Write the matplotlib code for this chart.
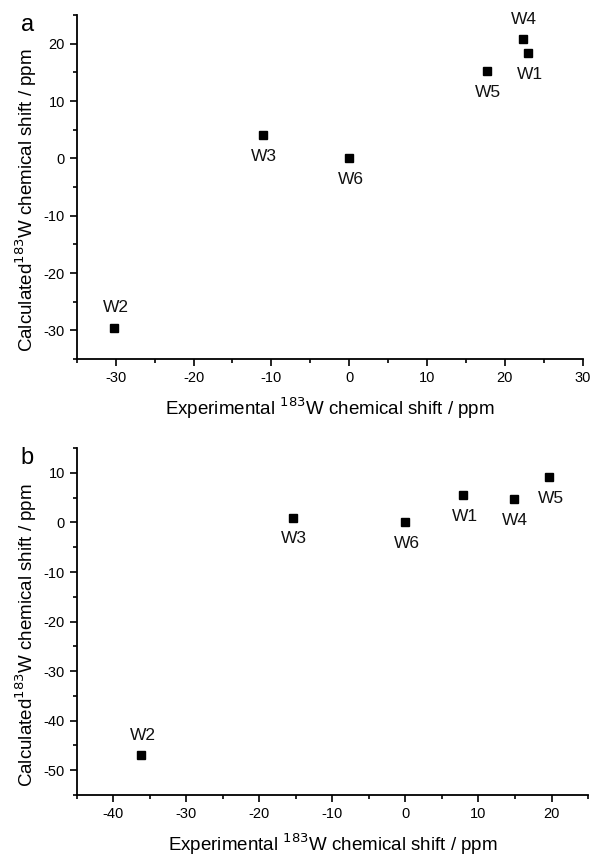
import matplotlib
matplotlib.use("Agg")
import matplotlib.pyplot as plt
from matplotlib.ticker import MultipleLocator

plt.rcParams['font.family'] = ['Liberation Sans', 'DejaVu Sans']
plt.rcParams['axes.unicode_minus'] = False

# panel a
labels_a = ['W1', 'W2', 'W3', 'W4', 'W5', 'W6']
exp_a = [23.0, -30.2, -11.1, 22.3, 17.7, 0.0]
calc_a = [18.3, -29.5, 4.0, 20.8, 15.2, 0.0]
above_a = ['W2', 'W4']

# panel b
labels_b = ['W1', 'W2', 'W3', 'W4', 'W5', 'W6']
exp_b = [7.9, -36.2, -15.4, 14.8, 19.7, 0.0]
calc_b = [5.5, -47.0, 1.0, 4.7, 9.2, 0.0]
above_b = ['W2']

xticks_a = [-30, -20, -10, 0, 10, 20, 30]
yticks_a = [-30, -20, -10, 0, 10, 20]
xticks_b = [-40, -30, -20, -10, 0, 10, 20]
yticks_b = [-50, -40, -30, -20, -10, 0, 10]

fig = plt.figure(figsize=(5.91, 8.57), dpi=100)
ax1 = fig.add_axes([0.130, 0.581, 0.856, 0.4015])
ax2 = fig.add_axes([0.130, 0.0725, 0.865, 0.4045])


def draw(ax, xs, ys, names, above, xlim, ylim, xt, yt, letter):
    ax.plot(xs, ys, 's', color='black', markersize=5.3, linestyle='none')
    for x, y, n in zip(xs, ys, names):
        if n in above:
            ax.annotate(n, (x, y), xytext=(1, 9), textcoords='offset points',
                        ha='center', va='bottom', fontsize=12.5, color='#111111')
        else:
            ax.annotate(n, (x, y), xytext=(1, -10), textcoords='offset points',
                        ha='center', va='top', fontsize=12.5, color='#111111')
    ax.set_xlim(*xlim)
    ax.set_ylim(*ylim)
    ax.set_xticks(xt)
    ax.set_yticks(yt)
    ax.xaxis.set_minor_locator(MultipleLocator(5))
    ax.yaxis.set_minor_locator(MultipleLocator(5))
    ax.tick_params(which='both', direction='out', width=1.2, labelsize=10.5)
    ax.tick_params(which='major', length=5)
    ax.tick_params(which='minor', length=3)
    for s in ['top', 'right']:
        ax.spines[s].set_visible(False)
    for s in ['left', 'bottom']:
        ax.spines[s].set_linewidth(1.3)
    ax.set_xlabel('Experimental $^{183}$W chemical shift / ppm', fontsize=13.5, labelpad=8)
    ax.set_ylabel('Calculated$^{183}$W chemical shift / ppm', fontsize=13.5)
    ax.yaxis.set_label_coords(-0.074, 0.462)
    ax.text(-0.098, 0.972, letter, transform=ax.transAxes, fontsize=17,
            ha='center', va='center')


draw(ax1, exp_a, calc_a, labels_a, above_a, (-35, 30), (-35, 25),
     xticks_a, yticks_a, 'a')
draw(ax2, exp_b, calc_b, labels_b, above_b, (-45, 25), (-55, 15),
     xticks_b, yticks_b, 'b')

fig.savefig('out.png', dpi=100)
